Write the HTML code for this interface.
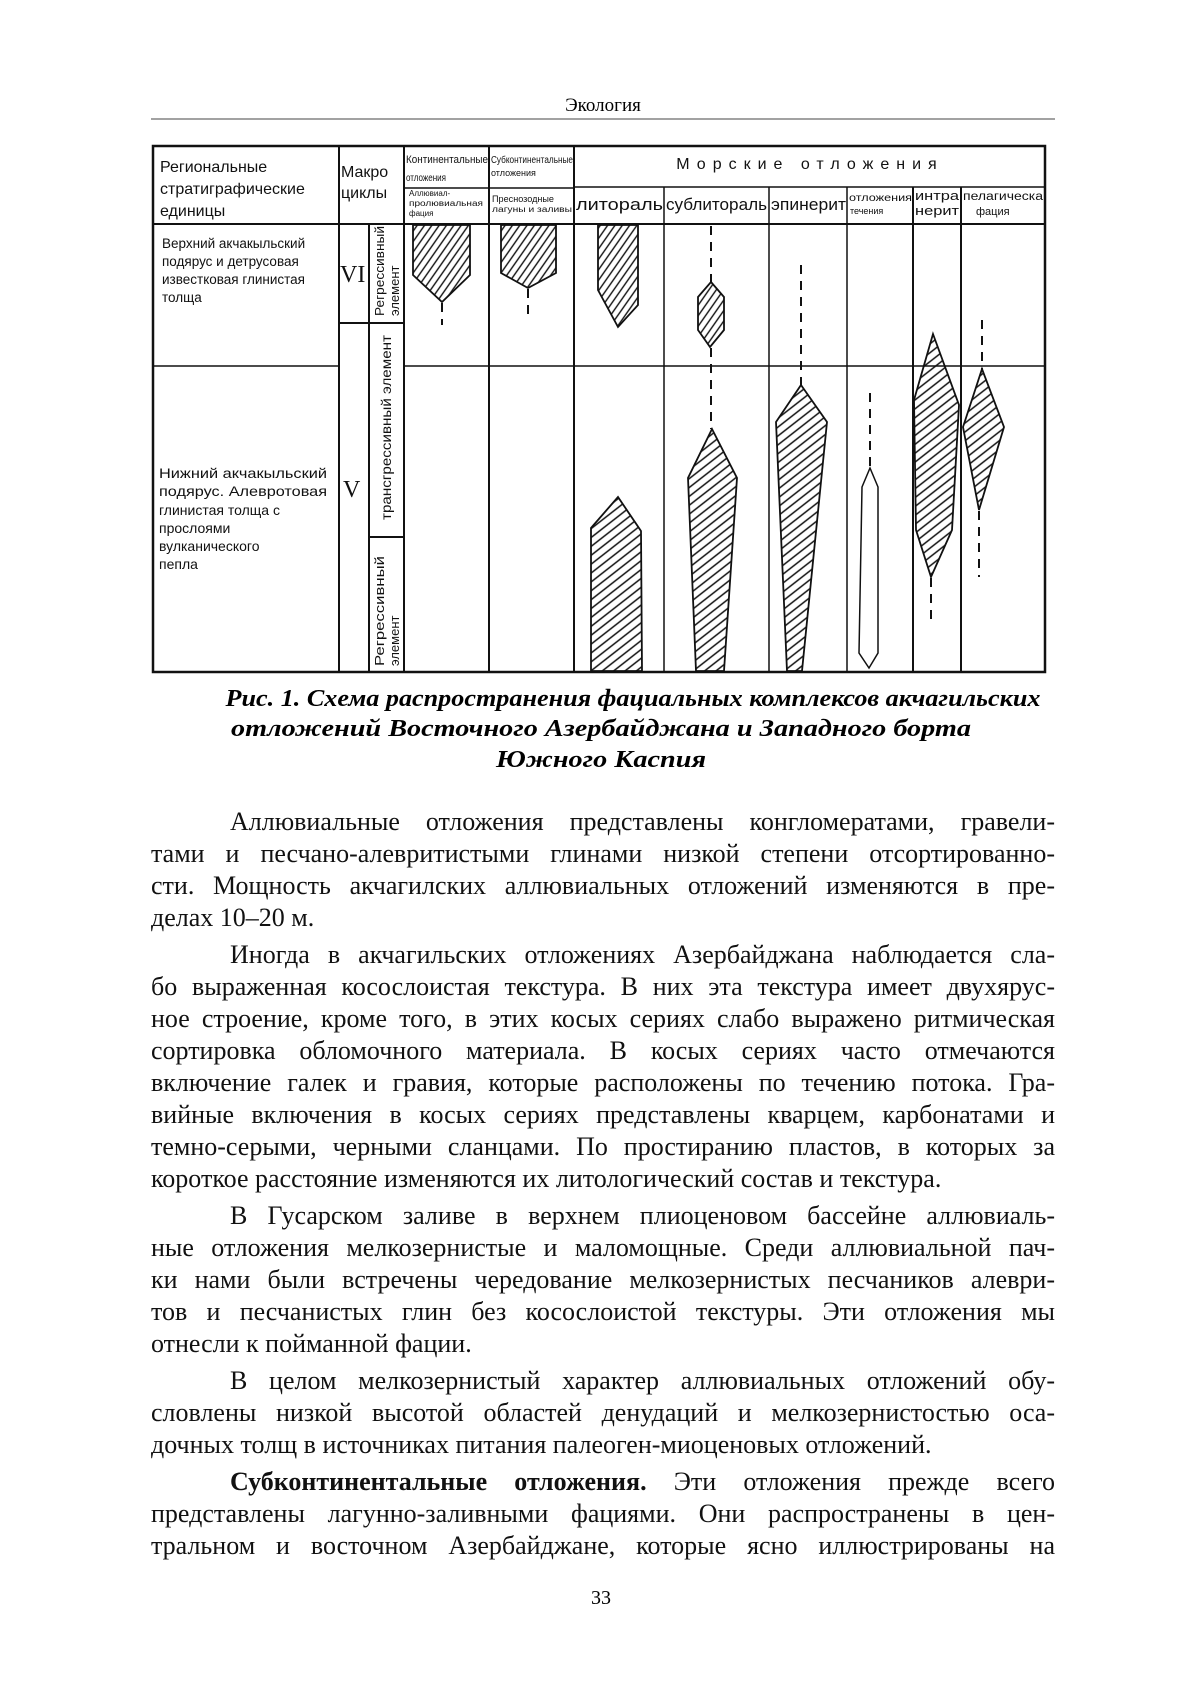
<!DOCTYPE html>
<html><head><meta charset="utf-8">
<style>
html,body{margin:0;padding:0;background:#fff;}
body{width:1200px;height:1697px;position:relative;overflow:hidden;font-family:"Liberation Serif",serif;color:#111;}
.l{position:absolute;left:151px;width:904px;height:32px;line-height:32px;font-size:26px;text-align:justify;text-align-last:justify;white-space:nowrap;}
.l.i{left:230px;width:825px;}
.l.e{text-align-last:left;}
</style></head><body>
<svg width="1200" height="1697" style="position:absolute;left:0;top:0" xmlns="http://www.w3.org/2000/svg">
<defs>
<pattern id="h1" patternUnits="userSpaceOnUse" width="6" height="6" patternTransform="rotate(-55)"><line x1="0" y1="3" x2="6" y2="3" stroke="#111" stroke-width="1.4"/></pattern>
<pattern id="h2" patternUnits="userSpaceOnUse" width="7" height="7" patternTransform="rotate(-38)"><line x1="0" y1="3.5" x2="7" y2="3.5" stroke="#111" stroke-width="1.5"/></pattern>
</defs>
<text x="603" y="111" font-family="Liberation Serif" font-size="19" text-anchor="middle">Экология</text>
<line x1="151" y1="119" x2="1055" y2="119" stroke="#444" stroke-width="1"/>
<g stroke="#111" fill="none">
<rect x="153" y="146" width="892" height="526" stroke-width="2.5"/>
<line x1="153" y1="224" x2="1045" y2="224" stroke-width="2"/>
<line x1="339" y1="146" x2="339" y2="672" stroke-width="2"/>
<line x1="369" y1="224" x2="369" y2="672" stroke-width="2"/>
<line x1="404" y1="146" x2="404" y2="672" stroke-width="2"/>
<line x1="489" y1="146" x2="489" y2="672" stroke-width="2"/>
<line x1="574" y1="146" x2="574" y2="672" stroke-width="2"/>
<line x1="404" y1="188" x2="574" y2="188" stroke-width="1.5"/>
<line x1="574" y1="187" x2="1045" y2="187" stroke-width="1.5"/>
<line x1="664" y1="187" x2="664" y2="672" stroke-width="1.5"/>
<line x1="769" y1="187" x2="769" y2="672" stroke-width="1.5"/>
<line x1="847" y1="187" x2="847" y2="672" stroke-width="1.5"/>
<line x1="913" y1="187" x2="913" y2="672" stroke-width="2"/>
<line x1="961" y1="187" x2="961" y2="672" stroke-width="2"/>
<line x1="339" y1="323" x2="404" y2="323" stroke-width="2"/>
<line x1="369" y1="537" x2="404" y2="537" stroke-width="2"/>
<line x1="153" y1="366" x2="339" y2="366" stroke-width="1.5"/>
<line x1="404" y1="366" x2="1045" y2="366" stroke-width="1.5"/>
</g>
<g font-family="Liberation Sans" fill="#111">
<text x="160" y="172" font-size="16">Региональные</text>
<text x="160" y="194" font-size="16">стратиграфические</text>
<text x="160" y="216" font-size="16">единицы</text>
<text x="341" y="177" font-size="16">Макро</text>
<text x="341" y="198" font-size="16">циклы</text>
<text x="406" y="163" font-size="11" textLength="82" lengthAdjust="spacingAndGlyphs">Континентальные</text>
<text x="406" y="181" font-size="10" textLength="40" lengthAdjust="spacingAndGlyphs">отложения</text>
<text x="409" y="196" font-size="8">Аллювиал-</text>
<text x="409" y="206" font-size="8" textLength="74" lengthAdjust="spacingAndGlyphs">пролювиальная</text>
<text x="409" y="216" font-size="8">фация</text>
<text x="491" y="163" font-size="10" textLength="82" lengthAdjust="spacingAndGlyphs">Субконтинентальные</text>
<text x="491" y="176" font-size="9">отложения</text>
<text x="492" y="202" font-size="9" textLength="62" lengthAdjust="spacingAndGlyphs">Преснозодные</text>
<text x="492" y="212" font-size="8" textLength="80" lengthAdjust="spacingAndGlyphs">лагуны и заливы</text>
<text x="810" y="169" font-size="16" text-anchor="middle" letter-spacing="7">Морские отложения</text>
<text x="576" y="210" font-size="16.5" textLength="87" lengthAdjust="spacingAndGlyphs">литораль</text>
<text x="666" y="210" font-size="16.5" textLength="101" lengthAdjust="spacingAndGlyphs">сублитораль</text>
<text x="771" y="210" font-size="16.5" textLength="75" lengthAdjust="spacingAndGlyphs">эпинерит</text>
<text x="849" y="201" font-size="10" textLength="63" lengthAdjust="spacingAndGlyphs">отложения</text>
<text x="850" y="214" font-size="9">течения</text>
<text x="915" y="200" font-size="12.5" textLength="44" lengthAdjust="spacingAndGlyphs">интра</text>
<text x="915" y="215" font-size="12.5" textLength="44" lengthAdjust="spacingAndGlyphs">нерит</text>
<text x="963" y="200" font-size="11.5" textLength="80" lengthAdjust="spacingAndGlyphs">пелагическа</text>
<text x="976" y="215" font-size="11">фация</text>
<g font-size="13.5">
<text x="162" y="248">Верхний акчакыльский</text>
<text x="162" y="266">подярус и детрусовая</text>
<text x="162" y="284">известковая глинистая</text>
<text x="162" y="302">толща</text>
</g>
<g font-size="14" font-family="Liberation Sans Narrow, Liberation Sans">
<text x="159" y="478" textLength="168" lengthAdjust="spacingAndGlyphs">Нижний акчакыльский</text>
<text x="159" y="496" textLength="168" lengthAdjust="spacingAndGlyphs">подярус. Алевротовая</text>
<text x="159" y="515">глинистая толща с</text>
<text x="159" y="533">прослоями</text>
<text x="159" y="551">вулканического</text>
<text x="159" y="569">пепла</text>
</g>
<text x="340" y="282" font-family="Liberation Serif" font-size="24">VI</text>
<text x="343" y="497" font-family="Liberation Serif" font-size="24">V</text>
<text transform="translate(384,316) rotate(-90)" font-size="13" textLength="90" lengthAdjust="spacingAndGlyphs">Регрессивный</text>
<text transform="translate(399,316) rotate(-90)" font-size="13">элемент</text>
<text transform="translate(391,520) rotate(-90)" font-size="13.5" textLength="185" lengthAdjust="spacingAndGlyphs">трансгрессивный элемент</text>
<text transform="translate(384,666) rotate(-90)" font-size="13" textLength="110" lengthAdjust="spacingAndGlyphs">Регрессивный</text>
<text transform="translate(399,666) rotate(-90)" font-size="13">элемент</text>
</g>
<g stroke="#111" stroke-width="1.8" stroke-linejoin="miter">
<polygon points="413,225 470,225 470,275 442,302 413,275" fill="url(#h1)"/>
<polygon points="501,225 556,225 556,273 528,288 501,273" fill="url(#h1)"/>
<polygon points="598,225 638,225 638,305 618,327 598,290" fill="url(#h1)"/>
<polygon points="711,282 724,297 724,330 710,347 698,330 698,297" fill="url(#h1)"/>
<polygon points="618,497 641,531 642,671 591,671 591,528" fill="url(#h2)"/>
<polygon points="712,429 737,478 724,671 696,671 688,478" fill="url(#h2)"/>
<polygon points="801,385 827,422 802,671 787,671 776,422" fill="url(#h2)"/>
<polygon points="870,468 878,487 878,653 869,668 859,653 862,487" fill="none" stroke-width="1.5"/>
<polygon points="933,334 959,405 952,530 931,577 916,530 914,400" fill="url(#h2)"/>
<polygon points="982,369 1004,427 979,510 963,427" fill="url(#h2)"/>
</g>
<g stroke="#111" stroke-width="2" stroke-dasharray="9,7" fill="none">
<line x1="442" y1="303" x2="442" y2="325"/>
<line x1="528" y1="289" x2="528" y2="318"/>
<line x1="711" y1="226" x2="711" y2="282"/>
<line x1="711" y1="348" x2="711" y2="429"/>
<line x1="801" y1="265" x2="801" y2="385"/>
<line x1="870" y1="393" x2="870" y2="468"/>
<line x1="931" y1="578" x2="931" y2="622"/>
<line x1="982" y1="320" x2="982" y2="369"/>
<line x1="979" y1="511" x2="979" y2="577"/>
</g>
<g font-family="Liberation Serif" font-size="24" font-weight="bold" font-style="italic" text-anchor="middle">
<text x="633" y="706" textLength="815" lengthAdjust="spacingAndGlyphs">Рис. 1. Схема распространения фациальных комплексов акчагильских</text>
<text x="601" y="736" textLength="740" lengthAdjust="spacingAndGlyphs">отложений Восточного Азербайджана и Западного борта</text>
<text x="601" y="767" textLength="210" lengthAdjust="spacingAndGlyphs">Южного Каспия</text>
</g>
<text x="601" y="1604" font-family="Liberation Serif" font-size="20" text-anchor="middle">33</text>
</svg>

<div class="l i" style="top:806px">Аллювиальные отложения представлены конгломератами, гравели-</div>
<div class="l" style="top:838px">тами и песчано-алевритистыми глинами низкой степени отсортированно-</div>
<div class="l" style="top:870px">сти. Мощность акчагилских аллювиальных отложений изменяются в пре-</div>
<div class="l e" style="top:902px">делах 10–20 м.</div>
<div class="l i" style="top:939px">Иногда в акчагильских отложениях Азербайджана наблюдается сла-</div>
<div class="l" style="top:971px">бо выраженная косослоистая текстура. В них эта текстура имеет двухярус-</div>
<div class="l" style="top:1003px">ное строение, кроме того, в этих косых сериях слабо выражено ритмическая</div>
<div class="l" style="top:1035px">сортировка обломочного материала. В косых сериях часто отмечаются</div>
<div class="l" style="top:1067px">включение галек и гравия, которые расположены по течению потока. Гра-</div>
<div class="l" style="top:1099px">вийные включения в косых сериях представлены кварцем, карбонатами и</div>
<div class="l" style="top:1131px">темно-серыми, черными сланцами. По простиранию пластов, в которых за</div>
<div class="l e" style="top:1163px">короткое расстояние изменяются их литологический состав и текстура.</div>
<div class="l i" style="top:1200px">В Гусарском заливе в верхнем плиоценовом бассейне аллювиаль-</div>
<div class="l" style="top:1232px">ные отложения мелкозернистые и маломощные. Среди аллювиальной пач-</div>
<div class="l" style="top:1264px">ки нами были встречены чередование мелкозернистых песчаников алеври-</div>
<div class="l" style="top:1296px">тов и песчанистых глин без косослоистой текстуры. Эти отложения мы</div>
<div class="l e" style="top:1328px">отнесли к пойманной фации.</div>
<div class="l i" style="top:1365px">В целом мелкозернистый характер аллювиальных отложений обу-</div>
<div class="l" style="top:1397px">словлены низкой высотой областей денудаций и мелкозернистостью оса-</div>
<div class="l e" style="top:1429px">дочных толщ в источниках питания палеоген-миоценовых отложений.</div>
<div class="l i" style="top:1466px"><b>Субконтинентальные отложения.</b> Эти отложения прежде всего</div>
<div class="l" style="top:1498px">представлены лагунно-заливными фациями. Они распространены в цен-</div>
<div class="l" style="top:1530px">тральном и восточном Азербайджане, которые ясно иллюстрированы на</div>
</body></html>
